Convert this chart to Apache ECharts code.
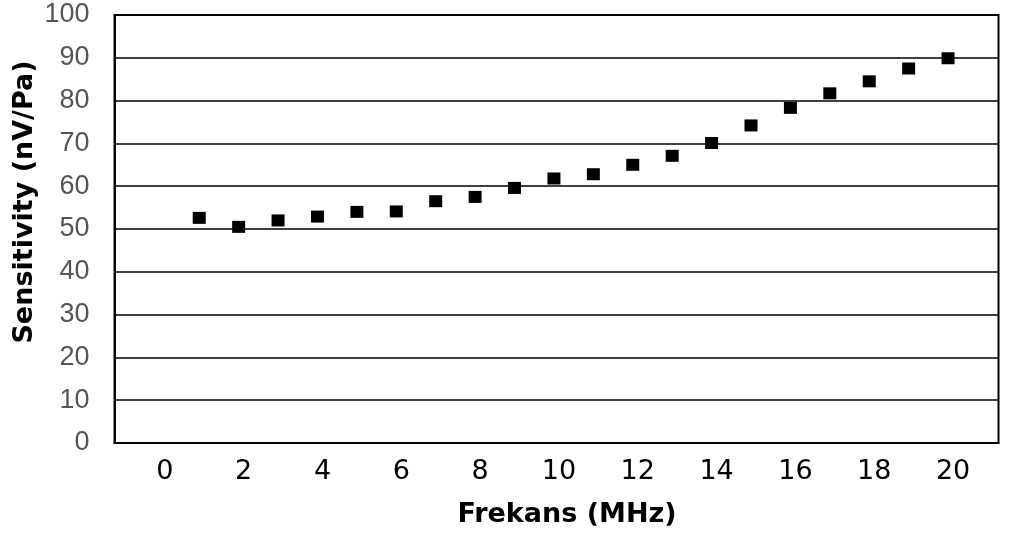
<!DOCTYPE html>
<html>
<head>
<meta charset="utf-8">
<script src="https://cdn.jsdelivr.net/npm/echarts@6/dist/echarts.min.js"></script>
<style>
html,body{margin:0;padding:0;background:#fff;}
#chart{width:1017px;height:536px;}
</style>
</head>
<body>
<div id="chart"></div>
<script>
const frequencies = [1, 2, 3, 4, 5, 6, 7, 8, 9, 10, 11, 12, 13, 14, 15, 16, 17, 18, 19, 20];
const sensitivity = [52.6, 50.5, 52.0, 52.9, 54.0, 54.1, 56.5, 57.5, 59.6, 61.8, 62.8, 65.0, 67.1, 70.1, 74.2, 78.3, 81.7, 84.5, 87.5, 89.9];
const xTickValues = [0, 2, 4, 6, 8, 10, 12, 14, 16, 18, 20];
const xAxisTitle = 'Frekans (MHz)';
const yAxisTitle = 'Sensitivity (nV/Pa)';

const points = frequencies.map((f, i) => [f, sensitivity[i]]);

const chart = echarts.init(document.getElementById('chart'), null, {renderer: 'canvas'});
chart.setOption({
  animation: false,
  backgroundColor: '#fff',
  grid: {
    left: 114.5, right: 18.5, top: 15, bottom: 93,
    show: true, borderColor: '#000', borderWidth: 2, backgroundColor: 'transparent'
  },
  xAxis: {
    type: 'value',
    min: -1.15,
    max: 21.28,
    name: xAxisTitle,
    nameLocation: 'middle',
    nameGap: 58,
    nameMoveOverlap: false,
    nameTextStyle: {fontFamily: 'DejaVu Sans', fontWeight: 'bold', fontSize: 27, color: '#000', padding: [0, 0, 0, 21]},
    axisLine: {show: true, onZero: false, lineStyle: {color: '#000', width: 2}},
    axisTick: {show: false},
    splitLine: {show: false},
    axisLabel: {
      customValues: xTickValues,
      fontFamily: 'DejaVu Sans', fontSize: 27, color: '#000', margin: 15,
      padding: [0, 0, 0, 10]
    }
  },
  yAxis: {
    type: 'value',
    min: 0, max: 100, interval: 10,
    name: yAxisTitle,
    nameLocation: 'middle',
    nameGap: 76,
    nameMoveOverlap: false,
    nameTextStyle: {fontFamily: 'DejaVu Sans', fontWeight: 'bold', fontSize: 27, color: '#000', padding: [0, 0, 0, 54]},
    axisLine: {show: true, onZero: false, lineStyle: {color: '#000', width: 2}},
    axisTick: {show: false},
    splitLine: {show: true, lineStyle: {color: '#000', width: 1.5}},
    axisLabel: {fontFamily: 'Liberation Sans', fontSize: 27, color: '#555', margin: 25}
  },
  series: [{
    type: 'scatter',
    data: points,
    symbol: 'rect',
    symbolSize: [13, 12],
    itemStyle: {color: '#000', opacity: 1}
  }]
});
</script>
</body>
</html>
